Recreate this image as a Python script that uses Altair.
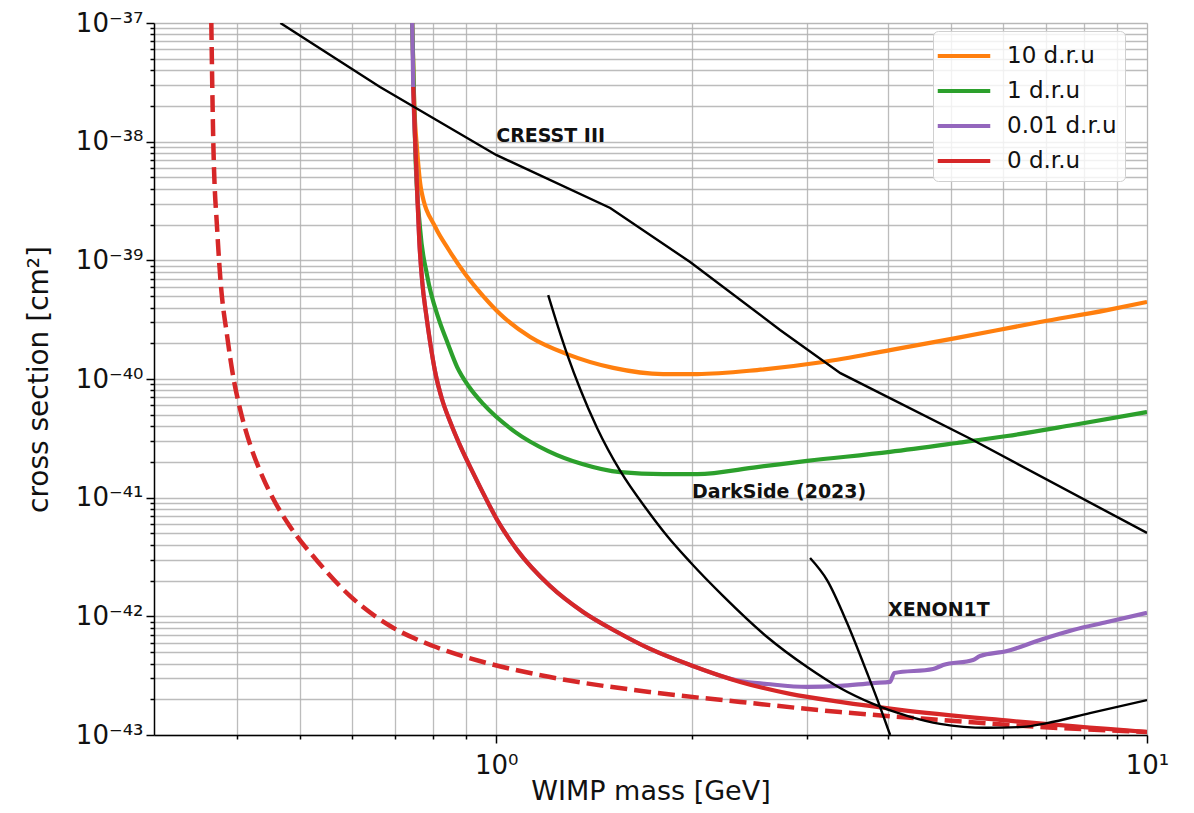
import json
import altair as alt
import pandas as pd

FONT = "DejaVu Sans"

# ---- data (mass in GeV, cross section in cm^2) ----
CRESST_MASS = [0.466, 0.663, 1.0, 1.497, 1.986, 2.73, 3.38, 5.40, 10.0]
CRESST_XSEC = [1.0e-37, 2.89e-38, 7.73e-39, 2.76e-39, 9.68e-40, 2.59e-40, 1.12e-40, 3.06e-41, 5.04e-42]

DARKSIDE_MASS = [1.202, 1.245, 1.290, 1.346, 1.429, 1.551, 1.706, 1.831, 1.986, 2.233, 2.608, 3.005,
                 3.376, 3.794, 4.279, 4.809, 5.678, 6.45, 7.02, 8.17, 10.0]
DARKSIDE_XSEC = [5.1e-40, 2.74e-40, 1.53e-40, 8.24e-41, 3.87e-41, 1.68e-41, 7.87e-42, 4.75e-42,
                 2.87e-42, 1.48e-42, 6.70e-43, 3.74e-43, 2.49e-43, 1.83e-43, 1.45e-43, 1.24e-43,
                 1.15e-43, 1.17e-43, 1.26e-43, 1.53e-43, 1.97e-43]

XENON_MASS = [3.036, 3.224, 3.461, 3.715, 3.89, 4.03]
XENON_XSEC = [3.10e-42, 2.02e-42, 8.79e-43, 3.33e-43, 1.72e-43, 1.0e-43]

DRU10_MASS = [0.743, 0.748, 0.756, 0.767, 0.806, 0.844, 0.896, 0.955, 1.014, 1.128, 1.285, 1.513,
              1.805, 2.036, 2.517, 3.179, 4.029, 5.107, 6.849, 8.683, 10.0]
DRU10_XSEC = [1.0e-37, 2.24e-38, 8.51e-39, 3.92e-39, 1.91e-39, 1.246e-39, 7.67e-40, 5.0e-40,
              3.53e-40, 2.26e-40, 1.62e-40, 1.24e-40, 1.10e-40, 1.10e-40, 1.19e-40, 1.39e-40,
              1.75e-40, 2.22e-40, 3.02e-40, 3.81e-40, 4.46e-40]

DRU1_MASS = [0.743, 0.751, 0.764, 0.783, 0.815, 0.841, 0.871, 0.909, 0.955, 1.07, 1.202, 1.356,
             1.551, 1.805, 2.036, 2.517, 3.005, 4.029, 5.107, 6.095, 7.697, 10.0]
DRU1_XSEC = [1.0e-37, 8.51e-39, 1.84e-39, 7.52e-40, 3.27e-40, 2.05e-40, 1.26e-40, 8.56e-41,
             6.16e-41, 3.57e-41, 2.47e-41, 1.92e-41, 1.64e-41, 1.58e-41, 1.58e-41, 1.81e-41,
             2.04e-41, 2.43e-41, 2.89e-41, 3.31e-41, 4.10e-41, 5.27e-41]

DRU001_MASS = [0.743, 0.7457, 0.751, 0.7563, 0.7617, 0.7698, 0.7808, 0.7919, 0.8058, 0.8263, 0.850,
               0.8805, 0.9219, 0.9618, 1.0036, 1.077, 1.210, 1.360, 1.534, 1.724, 1.986, 2.371,
               2.608, 3.005, 3.376, 3.794, 4.029, 4.09, 4.692, 4.861, 5.404, 5.54, 6.095, 6.849,
               7.697, 8.683, 10.0]
DRU001_XSEC = [1.0e-37, 2.89e-38, 9.75e-39, 3.69e-39, 1.48e-39, 6.57e-40, 3.46e-40, 2.01e-40,
               1.146e-40, 6.65e-41, 4.34e-41, 2.73e-41, 1.61e-41, 1.01e-41, 6.49e-42, 3.62e-42,
               1.80e-42, 1.088e-42, 7.38e-43, 5.31e-43, 3.89e-43, 2.85e-43, 2.69e-43, 2.54e-43,
               2.59e-43, 2.74e-43, 2.80e-43, 3.33e-43, 3.60e-43, 3.89e-43, 4.29e-43, 4.63e-43,
               5.10e-43, 6.32e-43, 7.67e-43, 8.95e-43, 1.07e-42]

DRU0_MASS = [0.7457, 0.751, 0.7563, 0.7617, 0.7698, 0.7808, 0.7919, 0.8058, 0.8263, 0.850, 0.8805,
             0.9219, 0.9618, 1.0036, 1.077, 1.210, 1.360, 1.534, 1.724, 1.986, 2.371, 2.829, 3.376,
             4.174, 5.944, 10.0]
DRU0_XSEC = [2.89e-38, 9.75e-39, 3.69e-39, 1.48e-39, 6.57e-40, 3.46e-40, 2.01e-40, 1.146e-40,
             6.65e-41, 4.34e-41, 2.73e-41, 1.61e-41, 1.01e-41, 6.49e-42, 3.62e-42, 1.80e-42,
             1.088e-42, 7.38e-43, 5.31e-43, 3.89e-43, 2.80e-43, 2.22e-43, 1.90e-43, 1.63e-43,
             1.34e-43, 1.06e-43]

DASHED_MASS = [0.365, 0.3675, 0.3727, 0.3767, 0.3862, 0.3945, 0.4044, 0.4189, 0.4371, 0.4545,
               0.4827, 0.5309, 0.5966, 0.6873, 0.8001, 0.955, 1.210, 1.724, 2.371, 3.376, 4.809,
               6.849, 10.0]
DASHED_XSEC = [1.0e-37, 1.03e-38, 1.80e-39, 7.24e-40, 2.26e-40, 1.04e-40, 5.48e-41, 2.78e-41,
               1.52e-41, 9.75e-42, 5.66e-42, 2.93e-42, 1.48e-42, 8.29e-43, 5.62e-43, 4.12e-43,
               3.08e-43, 2.30e-43, 1.90e-43, 1.56e-43, 1.34e-43, 1.17e-43, 1.06e-43]

SERIES_LABELS = ["10 d.r.u", "1 d.r.u", "0.01 d.r.u", "0 d.r.u"]
SERIES_COLORS = ["#ff7f0e", "#2ca02c", "#9467bd", "#d62728"]

ANNOT_TEXT = ["CRESST III", "DarkSide (2023)", "XENON1T"]
ANNOT_MASS = [1.0, 2.0, 4.0]
ANNOT_XSEC = [1.0e-38, 1.0e-41, 1.0e-42]

X_DOMAIN = [0.298, 10.0]
Y_DOMAIN = [1e-43, 1e-37]
X_TICKS = [0.4, 0.5, 0.6, 0.7, 0.8, 0.9, 1, 2, 3, 4, 5, 6, 7, 8, 9, 10]
Y_TICKS = [k * 10.0 ** e for e in range(-43, -37) for k in range(1, 10)] + [1e-37]
X_TICK_LABELS = ["10⁰", "10¹"]
Y_TICK_LABELS = ["10⁻⁴³", "10⁻⁴²", "10⁻⁴¹", "10⁻⁴⁰", "10⁻³⁹", "10⁻³⁸", "10⁻³⁷"]


def frame(mass, xsec, name):
    return pd.DataFrame({"mass": mass, "xsec": xsec, "series": name, "idx": range(len(mass))})


colored = pd.concat([
    frame(DRU10_MASS, DRU10_XSEC, SERIES_LABELS[0]),
    frame(DRU1_MASS, DRU1_XSEC, SERIES_LABELS[1]),
    frame(DRU001_MASS, DRU001_XSEC, SERIES_LABELS[2]),
    frame(DRU0_MASS, DRU0_XSEC, SERIES_LABELS[3]),
])
cresst = frame(CRESST_MASS, CRESST_XSEC, "CRESST")
curved_black = pd.concat([
    frame(DARKSIDE_MASS, DARKSIDE_XSEC, "DarkSide"),
    frame(XENON_MASS, XENON_XSEC, "XENON"),
])
dashed = frame(DASHED_MASS, DASHED_XSEC, "dashed")
annots = pd.DataFrame({"mass": ANNOT_MASS, "xsec": ANNOT_XSEC, "text": ANNOT_TEXT})

LOG = "log(datum.value)/LN10"
MAJOR = f"abs({LOG} - round({LOG})) < 0.001"

x_axis = alt.Axis(
    values=X_TICKS,
    labelExpr=f"{MAJOR} ? {json.dumps(X_TICK_LABELS, ensure_ascii=False)}[round({LOG})] : ''",
    title="WIMP mass [GeV]",
    titleFont=FONT, titleFontSize=27, titleFontWeight="normal", titleColor="#111",
    titlePadding=0,
    labelFont=FONT, labelFontSize=26, labelColor="#111", labelPadding=9,
    labelOverlap=False, labelFlush=False,
    tickSize={"condition": {"test": MAJOR, "value": 8}, "value": 4},
    tickColor="black", tickWidth=1.5,
    domainColor="black", domainWidth=1.5,
    grid=True, gridColor="#b0b0b0", gridWidth=1.3, gridOpacity=0.85,
)
y_axis = alt.Axis(
    values=Y_TICKS,
    labelExpr=f"{MAJOR} ? {json.dumps(Y_TICK_LABELS, ensure_ascii=False)}[round({LOG}) + 43] : ''",
    title="cross section [cm²]",
    titleFont=FONT, titleFontSize=28, titleFontWeight="normal", titleColor="#111",
    titlePadding=22,
    labelFont=FONT, labelFontSize=26, labelColor="#111", labelPadding=3,
    labelOverlap=False, labelFlush=False,
    tickSize={"condition": {"test": MAJOR, "value": 8}, "value": 4},
    tickColor="black", tickWidth=1.5,
    domainColor="black", domainWidth=1.5,
    grid=True, gridColor="#b0b0b0", gridWidth=1.3, gridOpacity=0.85,
)

X = alt.X("mass:Q", scale=alt.Scale(type="log", domain=X_DOMAIN, nice=False), axis=x_axis)
Y = alt.Y("xsec:Q", scale=alt.Scale(type="log", domain=Y_DOMAIN, nice=False), axis=y_axis)
Xn = alt.X("mass:Q", scale=alt.Scale(type="log", domain=X_DOMAIN, nice=False))
Yn = alt.Y("xsec:Q", scale=alt.Scale(type="log", domain=Y_DOMAIN, nice=False))

legend = alt.Legend(
    title=None, orient="none", legendX=779, legendY=8,
    symbolType="M-1.75,0H1.75", symbolStrokeWidth=4, symbolSize=900, symbolOffset=6,
    labelFont=FONT, labelFontSize=23, labelColor="#111", labelOffset=26,
    padding=8, rowPadding=6,
    fillColor="rgba(255,255,255,0.8)", strokeColor="#d0d0d0", cornerRadius=5,
)
COLOR = alt.Color("series:N", scale=alt.Scale(domain=SERIES_LABELS, range=SERIES_COLORS), legend=legend)

dash_layer = alt.Chart(dashed).mark_line(
    clip=True, color="#d62728", strokeWidth=4.5, strokeDash=[17, 7], interpolate="monotone"
).encode(x=X, y=Y, order="idx:Q")

color_layers = []
for name in SERIES_LABELS:
    color_layers.append(
        alt.Chart(colored[colored["series"] == name]).mark_line(
            clip=True, strokeWidth=4.2, interpolate="monotone"
        ).encode(x=Xn, y=Yn, color=COLOR, order="idx:Q")
    )

cresst_layer = alt.Chart(cresst).mark_line(
    clip=True, color="black", strokeWidth=2.4
).encode(x=Xn, y=Yn, order="idx:Q")

curved_layer = alt.Chart(curved_black).mark_line(
    clip=True, color="black", strokeWidth=2.4, interpolate="monotone"
).encode(x=Xn, y=Yn, detail="series:N", order="idx:Q")

text_layer = alt.Chart(annots).mark_text(
    align="left", baseline="alphabetic", font=FONT, fontSize=19, fontWeight="bold", color="#111"
).encode(x=Xn, y=Yn, text="text:N")

chart = alt.layer(dash_layer, *color_layers, cresst_layer, curved_layer, text_layer).properties(
    width=993, height=712,
    autosize=alt.AutoSizeParams(type="none"),
    padding={"left": 146, "top": 15, "right": 39, "bottom": 70},
).configure_view(stroke="black", strokeWidth=1.5).configure(background="white")

chart.save("out.html", embed_options={"renderer": "svg", "actions": False})
